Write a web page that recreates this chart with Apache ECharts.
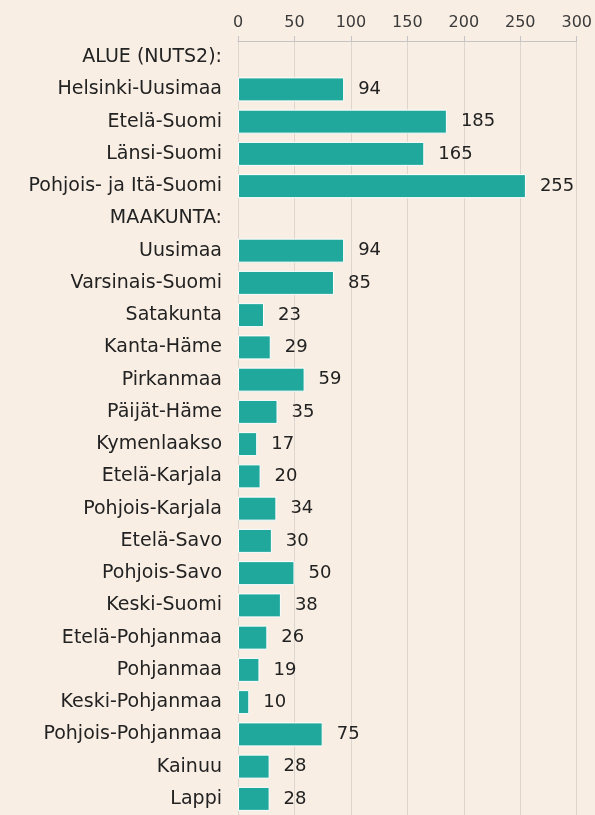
<!DOCTYPE html>
<html>
<head>
<meta charset="utf-8">
<script src="https://cdn.jsdelivr.net/npm/echarts@6/dist/echarts.min.js"></script>
<style>
  html, body { margin: 0; padding: 0; background: #f8eee4; }
  #chart { width: 595px; height: 815px; }
</style>
</head>
<body>
<div id="chart"></div>
<script>
// rivit ylhäältä alas; otsikkoriveillä ei arvoa
const categories = [
  "ALUE (NUTS2):", "Helsinki-Uusimaa", "Etelä-Suomi", "Länsi-Suomi", "Pohjois- ja Itä-Suomi",
  "MAAKUNTA:", "Uusimaa", "Varsinais-Suomi", "Satakunta", "Kanta-Häme", "Pirkanmaa",
  "Päijät-Häme", "Kymenlaakso", "Etelä-Karjala", "Pohjois-Karjala", "Etelä-Savo",
  "Pohjois-Savo", "Keski-Suomi", "Etelä-Pohjanmaa", "Pohjanmaa", "Keski-Pohjanmaa",
  "Pohjois-Pohjanmaa", "Kainuu", "Lappi"
];
const values = [
  null, 94, 185, 165, 255,
  null, 94, 85, 23, 29, 59,
  35, 17, 20, 34, 30,
  50, 38, 26, 19, 10,
  75, 28, 28
];
const xTicks = [0, 50, 100, 150, 200, 250, 300];

const font = "'DejaVu Sans', sans-serif";
const chart = echarts.init(document.getElementById("chart"));
chart.setOption({
  backgroundColor: "#f8eee4",
  animation: false,
  grid: { left: 238, right: 16, top: 41, bottom: -1 },
  xAxis: {
    type: "value",
    position: "top",
    min: xTicks[0],
    max: xTicks[xTicks.length - 1],
    interval: 50,
    axisLine: { show: true, lineStyle: { color: "#c4c4c4", width: 1 } },
    axisTick: { show: true, length: 5, lineStyle: { color: "#c4c4c4" } },
    axisLabel: { color: "#3a3a3a", fontSize: 16, fontFamily: font, margin: 10 },
    splitLine: { show: true, lineStyle: { color: "#ddd6cf", width: 1 } }
  },
  yAxis: {
    type: "category",
    inverse: true,
    data: categories,
    axisLine: { show: false },
    axisTick: { show: false },
    axisLabel: { color: "#222222", fontSize: 19, fontFamily: font, margin: 16 }
  },
  series: [{
    type: "bar",
    data: values,
    barWidth: 24,
    itemStyle: { color: "#1fa89b", borderColor: "#ffffff", borderWidth: 1 },
    label: {
      show: true,
      position: "right",
      distance: 14,
      color: "#222222",
      fontSize: 18,
      fontFamily: font
    }
  }]
});
</script>
</body>
</html>
